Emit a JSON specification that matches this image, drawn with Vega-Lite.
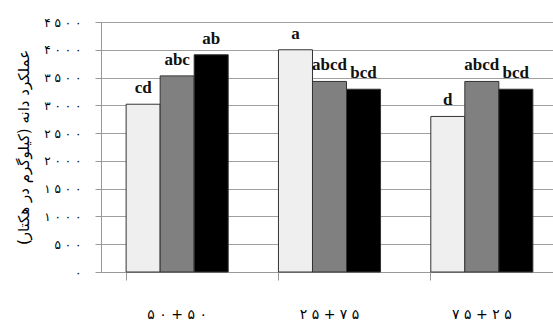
{
  "$schema": "https://vega.github.io/schema/vega-lite/v6.json",
  "width": 457,
  "height": 250,
  "autosize": {"type": "none"},
  "padding": {"left": 101, "top": 22, "right": 0, "bottom": 57},
  "config": {"view": {"stroke": null}},
  "data": {
    "values": [
      {"group": "۵۰+ ۵۰", "t": "t1", "value": 3020, "label": "cd"},
      {"group": "۵۰+ ۵۰", "t": "t2", "value": 3530, "label": "abc"},
      {"group": "۵۰+ ۵۰", "t": "t3", "value": 3910, "label": "ab"},
      {"group": "۲۵+۷۵", "t": "t1", "value": 4000, "label": "a"},
      {"group": "۲۵+۷۵", "t": "t2", "value": 3430, "label": "abcd"},
      {"group": "۲۵+۷۵", "t": "t3", "value": 3290, "label": "bcd"},
      {"group": "۷۵+۲۵", "t": "t1", "value": 2800, "label": "d"},
      {"group": "۷۵+۲۵", "t": "t2", "value": 3430, "label": "abcd"},
      {"group": "۷۵+۲۵", "t": "t3", "value": 3290, "label": "bcd"}
    ]
  },
  "encoding": {
    "x": {
      "field": "group", "type": "nominal",
      "sort": ["۵۰+ ۵۰", "۲۵+۷۵", "۷۵+۲۵"],
      "scale": {"paddingInner": 0.33, "paddingOuter": 0.165},
      "axis": {
        "title": null, "labelAngle": 0, "grid": false,
        "bandPosition": 0, "tickSize": 8, "tickColor": "#999999",
        "domainColor": "#999999", "labelPadding": 27,
        "labelExpr": "replace(datum.label, /(.)(?=.)/g, '$1 ')",
        "labelFont": "DejaVu Sans", "labelFontSize": 14, "labelFontWeight": "normal",
        "labelColor": "#000000"
      }
    },
    "xOffset": {"field": "t", "type": "nominal", "sort": ["t1", "t2", "t3"]},
    "y": {
      "field": "value", "type": "quantitative",
      "scale": {"domain": [0, 4500], "nice": false},
      "axis": {
        "title": "عملکرد دانه (کیلوگرم در هکتار)",
        "titleFont": "DejaVu Sans", "titleFontSize": 15, "titleFontWeight": "normal",
        "titleColor": "#000000", "titlePadding": 12,
        "values": [0, 500, 1000, 1500, 2000, 2500, 3000, 3500, 4000, 4500],
        "format": "d",
        "labelExpr": "replace(replace(replace(replace(replace(replace(replace(datum.label,/0/g,'۰'),/1/g,'۱'),/2/g,'۲'),/3/g,'۳'),/4/g,'۴'),/5/g,'۵'), /(.)(?=.)/g, '$1 ')",
        "labelFont": "DejaVu Sans", "labelFontSize": 12, "labelColor": "#000000",
        "labelPadding": 14, "tickSize": 6, "tickColor": "#999999",
        "domainColor": "#999999", "gridColor": "#a0a0a0", "grid": true
      }
    }
  },
  "layer": [
    {
      "mark": {"type": "bar", "stroke": "#333333", "strokeWidth": 1},
      "encoding": {
        "color": {
          "field": "t", "type": "nominal",
          "scale": {"domain": ["t1", "t2", "t3"], "range": ["#efefef", "#808080", "#000000"]},
          "legend": null
        }
      }
    },
    {
      "mark": {"type": "text", "baseline": "bottom", "dy": -7, "font": "Liberation Serif", "fontWeight": "bold", "fontSize": 17, "color": "#111111"},
      "encoding": {"text": {"field": "label"}}
    }
  ]
}
